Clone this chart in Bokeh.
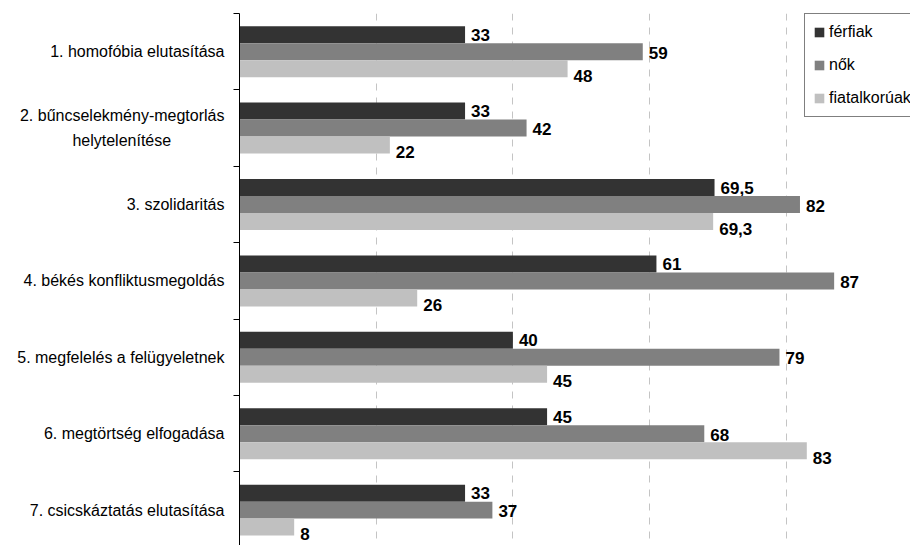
from bokeh.plotting import figure
from bokeh.models import (ColumnDataSource, Range1d, FixedTicker, Legend, LegendItem)
from bokeh.core.properties import value
from bokeh.embed import file_html
from bokeh.resources import INLINE

# Categories (top to bottom) and the three series;
# the second line of item 2 is padded with no-break spaces so it sits centred
categories = [
    "1. homofóbia elutasítása",
    "2. bűncselekmény-megtorlás\nhelytelenítése" + "\u00a0" * 12,
    "3. szolidaritás",
    "4. békés konfliktusmegoldás",
    "5. megfelelés a felügyeletnek",
    "6. megtörtség elfogadása",
    "7. csicskáztatás elutasítása",
]
series_names = ["férfiak", "nők", "fiatalkorúak"]
ferfiak = [33, 33, 69.5, 61, 40, 45, 33]
nok = [59, 42, 82, 87, 79, 68, 37]
fiatalkoruak = [48, 22, 69.3, 26, 45, 83, 8]
grid_ticks = [20, 40, 60, 80]

series_values = [ferfiak, nok, fiatalkoruak]
colors = ["#333333", "#808080", "#c0c0c0"]
FONT = "Arial"

n = len(categories)
bar_h = 0.2225
offsets = [-bar_h, 0.0, bar_h]
label_dy = [0, 1, 7]

p = figure(width=910, height=545, output_backend="svg", toolbar_location=None,
           x_range=Range1d(0, 98.17), y_range=Range1d(6.963, 0),
           x_axis_location=None, y_axis_location="left",
           min_border_left=239, min_border_top=13, min_border_right=0, min_border_bottom=0)
p.outline_line_color = None
p.background_fill_color = "white"
p.border_fill_color = "white"

# dashed vertical grid
p.ygrid.visible = False
p.xgrid.ticker = FixedTicker(ticks=grid_ticks)
p.xgrid.grid_line_color = "#c4c4c4"
p.xgrid.grid_line_dash = "7 7"
p.xgrid.grid_line_width = 1

# category axis: labels at centres, tick marks at boundaries
centers = [i + 0.5 for i in range(n)]
yax = p.yaxis[0]
yax.ticker = FixedTicker(ticks=centers, minor_ticks=list(range(n + 1)))
yax.major_label_overrides = {c: lab for c, lab in zip(centers, categories)}
yax.major_tick_out = 0
yax.major_tick_in = 0
yax.minor_tick_out = 6
yax.minor_tick_in = 0
yax.minor_tick_line_color = "#000000"
yax.axis_line_color = "#000000"
yax.major_label_standoff = 9
yax.major_label_text_font = FONT
yax.major_label_text_font_size = "16px"
yax.major_label_text_line_height = 1.45
yax.major_label_text_color = "#000000"

renderers = []
for name, vals, col, off, dy in zip(series_names, series_values, colors, offsets, label_dy):
    src = ColumnDataSource(dict(
        y=[c + off for c in centers],
        v=vals,
        lab=[f"{v:g}".replace(".", ",") for v in vals],
    ))
    r = p.hbar(y="y", right="v", left=0, height=bar_h, source=src,
               fill_color=col, line_color=None)
    renderers.append(r)
    p.text(x="v", y="y", text="lab", source=src, x_offset=6, y_offset=dy,
           text_align="left", text_baseline="middle",
           text_font=value(FONT), text_font_style="bold",
           text_font_size="17px", text_color="#000000")

legend = Legend(
    items=[LegendItem(label=nm, renderers=[r]) for nm, r in zip(series_names, renderers)],
    location=(565, 428),
    orientation="vertical",
    border_line_color="#000000", border_line_width=1,
    background_fill_color="white", background_fill_alpha=1,
    padding=8, spacing=13, margin=0,
    glyph_width=12, glyph_height=12, label_height=20, label_standoff=4,
    label_text_font=FONT, label_text_font_size="16px", label_text_color="#000000",
)
p.add_layout(legend, "center")

open("out.html", "w").write(file_html(p, INLINE))
